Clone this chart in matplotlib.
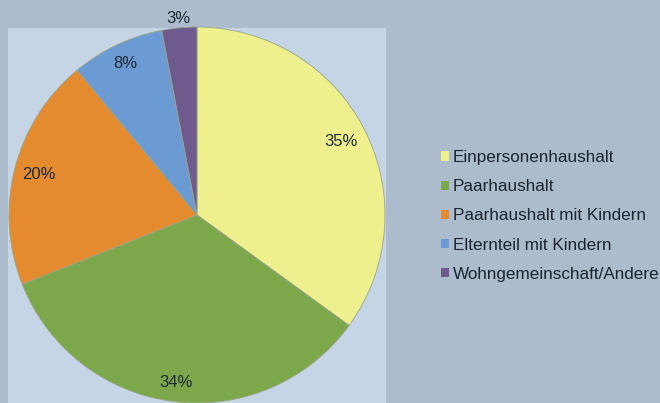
import matplotlib
matplotlib.use("Agg")
import matplotlib.pyplot as plt
import numpy as np
from matplotlib.patches import Rectangle

plt.rcParams["font.family"] = ["Liberation Sans", "DejaVu Sans"]

# Haushaltsformen, Anteile in Prozent
categories = [
    "Einpersonenhaushalt",
    "Paarhaushalt",
    "Paarhaushalt mit Kindern",
    "Elternteil mit Kindern",
    "Wohngemeinschaft/Andere",
]
shares = [35, 34, 20, 8, 3]
colors = ["#eef08e", "#7da74b", "#e48a2f", "#6c9bd3", "#6e5a8c"]
label_dist = [0.86, 0.90, 0.87, 0.89, 1.05]

W, H = 660, 403
fig = plt.figure(figsize=(W / 100, H / 100), dpi=100)
fig.patch.set_facecolor("#adbccc")

# Achsen in Pixelkoordinaten über die ganze Abbildung
ax = fig.add_axes([0, 0, 1, 1])
ax.add_patch(Rectangle((8, 0), 378, 375, facecolor="#c6d5e5", edgecolor="none", zorder=0))

cx, cy, r = 197, 188, 188
wedges, _ = ax.pie(
    shares,
    colors=colors,
    startangle=90,
    counterclock=False,
    center=(cx, cy),
    radius=r,
    frame=True,
    wedgeprops=dict(edgecolor="#9aa58a", linewidth=0.6),
)
ax.set_xlim(0, W)
ax.set_ylim(0, H)
ax.set_aspect("equal")
ax.axis("off")

# Prozentangaben in der Mitte jedes Segments
start = 90.0
for val, d in zip(shares, label_dist):
    span = 360.0 * val / sum(shares)
    mid = np.deg2rad(start - span / 2)
    ax.text(cx + d * r * np.cos(mid), cy + d * r * np.sin(mid), f"{val}%",
            ha="center", va="center", fontsize=12, color="#1e2a36")
    start -= span

leg = fig.legend(
    wedges, categories,
    loc="upper left", bbox_to_anchor=(441 / W, 1 - 150 / H),
    frameon=False, fontsize=12.3,
    handlelength=0.45, handleheight=0.45, handletextpad=0.25,
    labelspacing=0.83, borderpad=0, borderaxespad=0,
)
for t in leg.get_texts():
    t.set_color("#1c2432")
for h in leg.legend_handles:
    h.set_edgecolor("none")

fig.savefig("out.png", dpi=100, facecolor=fig.get_facecolor())
